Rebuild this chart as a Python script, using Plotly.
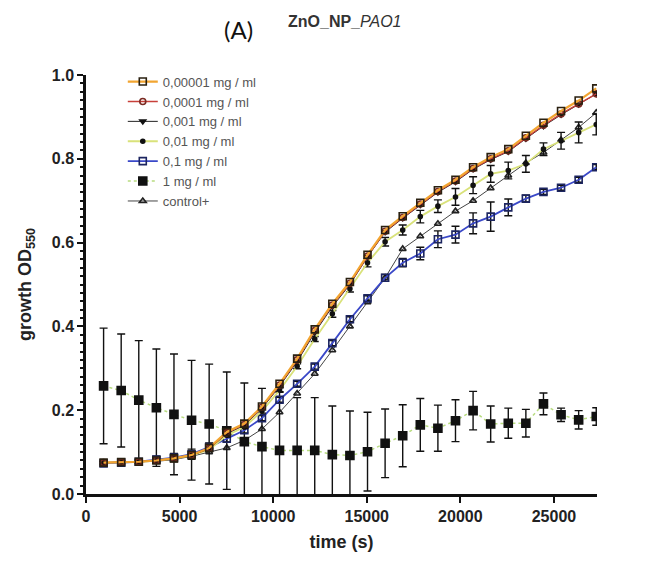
import plotly.graph_objects as go

# time points (s)
time_s = [940 * k for k in range(1, 30)]

c_00001 = [0.075, 0.076, 0.077, 0.080, 0.085, 0.093, 0.110, 0.148, 0.168, 0.209, 0.263, 0.323, 0.393, 0.454, 0.506, 0.571, 0.630, 0.663, 0.695, 0.725, 0.750, 0.780, 0.804, 0.823, 0.855, 0.886, 0.914, 0.939, 0.968]
c_0001 = [0.075, 0.076, 0.077, 0.080, 0.085, 0.093, 0.109, 0.146, 0.166, 0.207, 0.260, 0.320, 0.390, 0.451, 0.503, 0.568, 0.627, 0.660, 0.692, 0.722, 0.747, 0.777, 0.800, 0.819, 0.850, 0.880, 0.907, 0.931, 0.955]
c_001 = [0.075, 0.076, 0.077, 0.080, 0.085, 0.092, 0.108, 0.144, 0.164, 0.204, 0.257, 0.316, 0.385, 0.447, 0.500, 0.566, 0.625, 0.658, 0.690, 0.720, 0.745, 0.775, 0.798, 0.817, 0.848, 0.878, 0.905, 0.930, 0.955]
c_01 = [0.075, 0.076, 0.077, 0.080, 0.085, 0.092, 0.106, 0.140, 0.160, 0.198, 0.248, 0.305, 0.370, 0.430, 0.490, 0.552, 0.602, 0.630, 0.662, 0.687, 0.709, 0.737, 0.764, 0.772, 0.788, 0.823, 0.843, 0.863, 0.882]
e_01 = [0.003, 0.003, 0.003, 0.003, 0.003, 0.003, 0.003, 0.004, 0.004, 0.005, 0.005, 0.006, 0.006, 0.008, 0.008, 0.010, 0.010, 0.012, 0.015, 0.015, 0.020, 0.020, 0.020, 0.020, 0.020, 0.015, 0.020, 0.025, 0.025]
c_1 = [0.073, 0.075, 0.077, 0.082, 0.087, 0.095, 0.112, 0.132, 0.152, 0.181, 0.225, 0.263, 0.304, 0.360, 0.417, 0.467, 0.516, 0.552, 0.574, 0.608, 0.619, 0.646, 0.662, 0.684, 0.705, 0.721, 0.731, 0.750, 0.780]
e_1 = [0.004, 0.004, 0.005, 0.008, 0.010, 0.012, 0.010, 0.008, 0.006, 0.006, 0.006, 0.006, 0.006, 0.006, 0.006, 0.006, 0.008, 0.010, 0.015, 0.020, 0.020, 0.025, 0.035, 0.020, 0.008, 0.006, 0.006, 0.006, 0.006]
c_1mg = [0.258, 0.247, 0.224, 0.206, 0.190, 0.176, 0.167, 0.151, 0.125, 0.113, 0.104, 0.104, 0.104, 0.094, 0.092, 0.101, 0.121, 0.139, 0.165, 0.157, 0.175, 0.199, 0.167, 0.169, 0.169, 0.215, 0.189, 0.177, 0.185]
e_1mg = [0.138, 0.135, 0.142, 0.140, 0.144, 0.143, 0.143, 0.140, 0.140, 0.139, 0.140, 0.126, 0.126, 0.116, 0.106, 0.094, 0.082, 0.074, 0.063, 0.055, 0.050, 0.046, 0.043, 0.036, 0.033, 0.026, 0.016, 0.022, 0.021]
c_ctrl = [0.074, 0.075, 0.076, 0.078, 0.082, 0.090, 0.100, 0.110, 0.128, 0.155, 0.195, 0.240, 0.287, 0.343, 0.400, 0.458, 0.516, 0.585, 0.615, 0.645, 0.675, 0.700, 0.730, 0.760, 0.790, 0.815, 0.845, 0.875, 0.910]

series_names = ["0,00001 mg / ml", "0,0001 mg / ml", "0,001 mg / ml", "0,01 mg / ml", "0,1 mg / ml", "1 mg / ml", "control+"]

FONT = "Liberation Sans, Arial, sans-serif"

fig = go.Figure()

def add(name, y, line_color, line_width, symbol, msize, mcolor, mfill, err=None, dash="solid"):
    kw = {}
    if err is not None:
        kw["error_y"] = dict(type="data", array=err, visible=True, color="#111111", thickness=1.4, width=4)
    fig.add_trace(go.Scatter(
        x=time_s, y=y, name=name, mode="lines+markers",
        line=dict(color=line_color, width=line_width, dash=dash),
        marker=dict(symbol=symbol, size=msize, color=mfill, line=dict(color=mcolor, width=1.6)),
        **kw))

# drawn bottom-to-top; legend shown reversed so 0,00001 is first
add(series_names[6], c_ctrl, "#444444", 1.0, "triangle-up-open", 6, "#222222", "#222222")
add(series_names[5], c_1mg, "#b8dc80", 1.5, "square", 8, "#111111", "#111111", e_1mg, dash="dot")
add(series_names[4], c_1, "#3a48c8", 1.8, "square-open", 7, "#1c2560", "#1c2560", e_1)
add(series_names[3], c_01, "#d9e27a", 1.8, "circle", 4, "#111111", "#111111", e_01)
add(series_names[2], c_001, "#222222", 1.0, "triangle-down", 5, "#111111", "#111111")
add(series_names[1], c_0001, "#c8403a", 1.4, "circle-open", 6, "#7a2a22", "#7a2a22")
add(series_names[0], c_00001, "#f2a531", 2.2, "square-open", 7, "#2a2010", "#2a2010")

fig.update_layout(
    width=661, height=562,
    margin=dict(l=86, r=64, t=75, b=65),
    plot_bgcolor="white", paper_bgcolor="white",
    showlegend=True,
    legend=dict(x=0.072, y=1.02, xanchor="left", yanchor="top",
                font=dict(family=FONT, size=13, color="#555555"),
                bgcolor="rgba(0,0,0,0)", tracegroupgap=0, traceorder="reversed",
                itemwidth=30),
    font=dict(family=FONT, color="#222222"),
)

fig.update_xaxes(
    range=[0, 27300], tickvals=[0, 5000, 10000, 15000, 20000, 25000],
    ticktext=["0", "5000", "10000", "15000", "20000", "25000"],
    showgrid=False, zeroline=False, showline=True, linecolor="#111111", linewidth=2.5,
    ticks="outside", ticklen=6, tickwidth=2, tickcolor="#111111",
    tickfont=dict(family=FONT, size=16, color="#222222", weight="bold"),
    title=dict(text="time (s)", font=dict(family=FONT, size=18, color="#222222", weight="bold"), standoff=12),
)
fig.update_yaxes(
    range=[0, 1.0], tickvals=[0, 0.2, 0.4, 0.6, 0.8, 1.0],
    ticktext=["0.0", "0.2", "0.4", "0.6", "0.8", "1.0"],
    showgrid=False, zeroline=False, showline=True, linecolor="#111111", linewidth=2.5,
    ticks="outside", ticklen=6, tickwidth=2, tickcolor="#111111",
    minor=dict(dtick=0.02, tick0=0, ticks="outside", ticklen=3, tickwidth=1.5, tickcolor="#111111", showgrid=False),
    tickfont=dict(family=FONT, size=16, color="#222222", weight="bold"),
    title=dict(text="growth OD<sub>550</sub>", font=dict(family=FONT, size=18, color="#222222", weight="bold"), standoff=16),
)

fig.add_annotation(text="(A)", xref="paper", yref="paper", x=0.299, y=1.108,
                   xanchor="center", yanchor="middle",
                   showarrow=False, font=dict(family="Lato, Open Sans, sans-serif", size=24, color="#111111"))
fig.add_annotation(text="<b>ZnO_NP_</b><i>PAO1</i>", xref="paper", yref="paper", x=0.507, y=1.128,
                   xanchor="center", yanchor="middle",
                   showarrow=False, font=dict(family=FONT, size=16, color="#333333"))

fig.write_html("out.html")
